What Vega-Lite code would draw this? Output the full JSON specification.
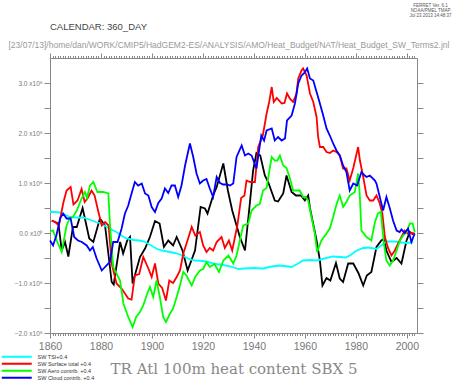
{
  "$schema": "https://vega.github.io/schema/vega-lite/v6.json",
  "width": 367,
  "height": 275,
  "autosize": {"type": "none"},
  "padding": {"left": 50, "top": 58, "right": 41, "bottom": 50},
  "background": "white",
  "title": {"text": "CALENDAR: 360_DAY", "anchor": "start", "frame": "group", "offset": -29, "font": "Liberation Sans", "fontSize": 9.5, "fontWeight": "normal", "color": "#444"},
  "config": {"view": {"stroke": null}},
  "datasets": {
    "lines": [
      {"series": "TR", "year": 1860.7, "value": 0.25},
      {"series": "TR", "year": 1863.3, "value": 0.19},
      {"series": "TR", "year": 1864.6, "value": -0.35},
      {"series": "TR", "year": 1865.9, "value": -0.18},
      {"series": "TR", "year": 1867.2, "value": -0.47},
      {"series": "TR", "year": 1869, "value": 0.12},
      {"series": "TR", "year": 1870.5, "value": 0.12},
      {"series": "TR", "year": 1872.8, "value": 0.5},
      {"series": "TR", "year": 1875.4, "value": -0.11},
      {"series": "TR", "year": 1877, "value": -0.18},
      {"series": "TR", "year": 1879.6, "value": 0.29},
      {"series": "TR", "year": 1881.6, "value": 0.15},
      {"series": "TR", "year": 1884.2, "value": -0.98},
      {"series": "TR", "year": 1885, "value": -1.03},
      {"series": "TR", "year": 1887.5, "value": -0.18},
      {"series": "TR", "year": 1888.7, "value": -0.41},
      {"series": "TR", "year": 1890.3, "value": -0.15},
      {"series": "TR", "year": 1891.4, "value": -0.08},
      {"series": "TR", "year": 1892.4, "value": -1.01},
      {"series": "TR", "year": 1895.3, "value": -0.48},
      {"series": "TR", "year": 1897.3, "value": -0.31},
      {"series": "TR", "year": 1899.2, "value": -0.08},
      {"series": "TR", "year": 1901.2, "value": 0.24},
      {"series": "TR", "year": 1903, "value": 0.19},
      {"series": "TR", "year": 1904.7, "value": -0.28},
      {"series": "TR", "year": 1906.4, "value": -0.15},
      {"series": "TR", "year": 1908.3, "value": -0.25},
      {"series": "TR", "year": 1909.7, "value": -0.08},
      {"series": "TR", "year": 1912, "value": -0.35},
      {"series": "TR", "year": 1914, "value": -0.75},
      {"series": "TR", "year": 1916.9, "value": -0.35},
      {"series": "TR", "year": 1919.1, "value": 0.52},
      {"series": "TR", "year": 1920.8, "value": 0.49},
      {"series": "TR", "year": 1921.8, "value": 0.39},
      {"series": "TR", "year": 1924, "value": 0.75},
      {"series": "TR", "year": 1925.4, "value": 0.92},
      {"series": "TR", "year": 1928, "value": 1.39},
      {"series": "TR", "year": 1929.8, "value": 0.85},
      {"series": "TR", "year": 1931.5, "value": 0.45},
      {"series": "TR", "year": 1934.5, "value": -0.08},
      {"series": "TR", "year": 1936.5, "value": -0.35},
      {"series": "TR", "year": 1938.4, "value": 0.59},
      {"series": "TR", "year": 1939.7, "value": 1.25},
      {"series": "TR", "year": 1941, "value": 1.6},
      {"series": "TR", "year": 1942.5, "value": 1.55},
      {"series": "TR", "year": 1944.3, "value": 1.15},
      {"series": "TR", "year": 1945.6, "value": 1.02},
      {"series": "TR", "year": 1948.2, "value": 0.65},
      {"series": "TR", "year": 1949.5, "value": 0.63},
      {"series": "TR", "year": 1951.5, "value": 0.79},
      {"series": "TR", "year": 1952.8, "value": 1.15},
      {"series": "TR", "year": 1954.8, "value": 0.82},
      {"series": "TR", "year": 1956.5, "value": 0.75},
      {"series": "TR", "year": 1958.5, "value": 0.75},
      {"series": "TR", "year": 1960, "value": 0.65},
      {"series": "TR", "year": 1961.3, "value": 0.75},
      {"series": "TR", "year": 1962, "value": 0.5},
      {"series": "TR", "year": 1964.6, "value": -0.15},
      {"series": "TR", "year": 1965.9, "value": -0.55},
      {"series": "TR", "year": 1966.9, "value": -1.05},
      {"series": "TR", "year": 1968.5, "value": -0.9},
      {"series": "TR", "year": 1970, "value": -0.95},
      {"series": "TR", "year": 1972.2, "value": -0.6},
      {"series": "TR", "year": 1973.7, "value": -0.91},
      {"series": "TR", "year": 1975, "value": -0.98},
      {"series": "TR", "year": 1977, "value": -0.61},
      {"series": "TR", "year": 1979, "value": -0.61},
      {"series": "TR", "year": 1981, "value": -0.8},
      {"series": "TR", "year": 1982.9, "value": -1.05},
      {"series": "TR", "year": 1984.3, "value": -0.85},
      {"series": "TR", "year": 1986.1, "value": -0.78},
      {"series": "TR", "year": 1988.1, "value": -0.28},
      {"series": "TR", "year": 1990, "value": -0.15},
      {"series": "TR", "year": 1991, "value": -0.12},
      {"series": "TR", "year": 1992, "value": -0.35},
      {"series": "TR", "year": 1994, "value": -0.58},
      {"series": "TR", "year": 1996, "value": -0.5},
      {"series": "TR", "year": 1997.9, "value": -0.61},
      {"series": "TR", "year": 1999.9, "value": -0.15},
      {"series": "TR", "year": 2001.2, "value": 0.02},
      {"series": "TR", "year": 2002.5, "value": -0.03},

      {"series": "SW TSI+0.4", "year": 1860, "value": 0.42},
      {"series": "SW TSI+0.4", "year": 1862, "value": 0.42},
      {"series": "SW TSI+0.4", "year": 1864, "value": 0.41},
      {"series": "SW TSI+0.4", "year": 1866, "value": 0.36},
      {"series": "SW TSI+0.4", "year": 1868, "value": 0.32},
      {"series": "SW TSI+0.4", "year": 1870, "value": 0.31},
      {"series": "SW TSI+0.4", "year": 1873, "value": 0.31},
      {"series": "SW TSI+0.4", "year": 1876, "value": 0.26},
      {"series": "SW TSI+0.4", "year": 1878, "value": 0.22},
      {"series": "SW TSI+0.4", "year": 1880, "value": 0.19},
      {"series": "SW TSI+0.4", "year": 1883, "value": 0.1},
      {"series": "SW TSI+0.4", "year": 1886, "value": 0.02},
      {"series": "SW TSI+0.4", "year": 1888, "value": -0.05},
      {"series": "SW TSI+0.4", "year": 1890, "value": -0.11},
      {"series": "SW TSI+0.4", "year": 1893, "value": -0.14},
      {"series": "SW TSI+0.4", "year": 1895, "value": -0.15},
      {"series": "SW TSI+0.4", "year": 1897, "value": -0.17},
      {"series": "SW TSI+0.4", "year": 1900, "value": -0.26},
      {"series": "SW TSI+0.4", "year": 1902, "value": -0.32},
      {"series": "SW TSI+0.4", "year": 1904, "value": -0.35},
      {"series": "SW TSI+0.4", "year": 1907, "value": -0.38},
      {"series": "SW TSI+0.4", "year": 1909, "value": -0.4},
      {"series": "SW TSI+0.4", "year": 1911, "value": -0.43},
      {"series": "SW TSI+0.4", "year": 1913, "value": -0.48},
      {"series": "SW TSI+0.4", "year": 1915, "value": -0.53},
      {"series": "SW TSI+0.4", "year": 1917, "value": -0.55},
      {"series": "SW TSI+0.4", "year": 1920, "value": -0.56},
      {"series": "SW TSI+0.4", "year": 1922, "value": -0.58},
      {"series": "SW TSI+0.4", "year": 1925, "value": -0.62},
      {"series": "SW TSI+0.4", "year": 1928, "value": -0.64},
      {"series": "SW TSI+0.4", "year": 1931, "value": -0.67},
      {"series": "SW TSI+0.4", "year": 1934, "value": -0.72},
      {"series": "SW TSI+0.4", "year": 1936, "value": -0.71},
      {"series": "SW TSI+0.4", "year": 1940, "value": -0.7},
      {"series": "SW TSI+0.4", "year": 1943.6, "value": -0.71},
      {"series": "SW TSI+0.4", "year": 1947, "value": -0.67},
      {"series": "SW TSI+0.4", "year": 1950, "value": -0.65},
      {"series": "SW TSI+0.4", "year": 1952, "value": -0.66},
      {"series": "SW TSI+0.4", "year": 1954.8, "value": -0.68},
      {"series": "SW TSI+0.4", "year": 1957, "value": -0.62},
      {"series": "SW TSI+0.4", "year": 1959.3, "value": -0.55},
      {"series": "SW TSI+0.4", "year": 1962, "value": -0.54},
      {"series": "SW TSI+0.4", "year": 1964.5, "value": -0.55},
      {"series": "SW TSI+0.4", "year": 1967, "value": -0.52},
      {"series": "SW TSI+0.4", "year": 1971, "value": -0.47},
      {"series": "SW TSI+0.4", "year": 1974, "value": -0.48},
      {"series": "SW TSI+0.4", "year": 1976, "value": -0.49},
      {"series": "SW TSI+0.4", "year": 1978, "value": -0.44},
      {"series": "SW TSI+0.4", "year": 1980, "value": -0.36},
      {"series": "SW TSI+0.4", "year": 1982.9, "value": -0.3},
      {"series": "SW TSI+0.4", "year": 1985, "value": -0.29},
      {"series": "SW TSI+0.4", "year": 1988, "value": -0.32},
      {"series": "SW TSI+0.4", "year": 1990, "value": -0.25},
      {"series": "SW TSI+0.4", "year": 1992, "value": -0.17},
      {"series": "SW TSI+0.4", "year": 1995, "value": -0.17},
      {"series": "SW TSI+0.4", "year": 1998, "value": -0.19},
      {"series": "SW TSI+0.4", "year": 2000, "value": -0.2},
      {"series": "SW TSI+0.4", "year": 2002.5, "value": -0.18},

      {"series": "SW Surface total +0.4", "year": 1860.7, "value": 0.25},
      {"series": "SW Surface total +0.4", "year": 1862, "value": 0.22},
      {"series": "SW Surface total +0.4", "year": 1863.5, "value": 0.15},
      {"series": "SW Surface total +0.4", "year": 1865.2, "value": 0.6},
      {"series": "SW Surface total +0.4", "year": 1866.5, "value": 0.85},
      {"series": "SW Surface total +0.4", "year": 1868.1, "value": 0.92},
      {"series": "SW Surface total +0.4", "year": 1869.2, "value": 0.57},
      {"series": "SW Surface total +0.4", "year": 1870.8, "value": 0.65},
      {"series": "SW Surface total +0.4", "year": 1872.4, "value": 0.88},
      {"series": "SW Surface total +0.4", "year": 1873.6, "value": 0.62},
      {"series": "SW Surface total +0.4", "year": 1874.8, "value": 0.7},
      {"series": "SW Surface total +0.4", "year": 1876.3, "value": 0.85},
      {"series": "SW Surface total +0.4", "year": 1877.5, "value": 0.75},
      {"series": "SW Surface total +0.4", "year": 1879, "value": 0.42},
      {"series": "SW Surface total +0.4", "year": 1880.3, "value": 0.15},
      {"series": "SW Surface total +0.4", "year": 1881.6, "value": 0.22},
      {"series": "SW Surface total +0.4", "year": 1883, "value": 0.15},
      {"series": "SW Surface total +0.4", "year": 1884.2, "value": -0.61},
      {"series": "SW Surface total +0.4", "year": 1886.1, "value": -1.01},
      {"series": "SW Surface total +0.4", "year": 1888.1, "value": -1.11},
      {"series": "SW Surface total +0.4", "year": 1890.7, "value": -1.31},
      {"series": "SW Surface total +0.4", "year": 1892, "value": -1.33},
      {"series": "SW Surface total +0.4", "year": 1893.3, "value": -0.85},
      {"series": "SW Surface total +0.4", "year": 1895, "value": -0.82},
      {"series": "SW Surface total +0.4", "year": 1896.6, "value": -0.48},
      {"series": "SW Surface total +0.4", "year": 1898.6, "value": -0.71},
      {"series": "SW Surface total +0.4", "year": 1899.9, "value": -0.88},
      {"series": "SW Surface total +0.4", "year": 1901.2, "value": -0.61},
      {"series": "SW Surface total +0.4", "year": 1902.5, "value": -1.01},
      {"series": "SW Surface total +0.4", "year": 1904, "value": -1.1},
      {"series": "SW Surface total +0.4", "year": 1905.5, "value": -1.35},
      {"series": "SW Surface total +0.4", "year": 1906.8, "value": -0.95},
      {"series": "SW Surface total +0.4", "year": 1908.3, "value": -1.0},
      {"series": "SW Surface total +0.4", "year": 1909.7, "value": -0.88},
      {"series": "SW Surface total +0.4", "year": 1911, "value": -0.75},
      {"series": "SW Surface total +0.4", "year": 1912.3, "value": -0.41},
      {"series": "SW Surface total +0.4", "year": 1914.2, "value": -0.11},
      {"series": "SW Surface total +0.4", "year": 1915.6, "value": 0.12},
      {"series": "SW Surface total +0.4", "year": 1917, "value": -0.05},
      {"series": "SW Surface total +0.4", "year": 1918.8, "value": 0.02},
      {"series": "SW Surface total +0.4", "year": 1920.1, "value": -0.25},
      {"series": "SW Surface total +0.4", "year": 1921.4, "value": -0.38},
      {"series": "SW Surface total +0.4", "year": 1922.7, "value": -0.3},
      {"series": "SW Surface total +0.4", "year": 1924, "value": -0.35},
      {"series": "SW Surface total +0.4", "year": 1925.4, "value": -0.18},
      {"series": "SW Surface total +0.4", "year": 1927.3, "value": -0.08},
      {"series": "SW Surface total +0.4", "year": 1928.6, "value": -0.3},
      {"series": "SW Surface total +0.4", "year": 1930.2, "value": -0.15},
      {"series": "SW Surface total +0.4", "year": 1931.5, "value": -0.35},
      {"series": "SW Surface total +0.4", "year": 1933.5, "value": 0.15},
      {"series": "SW Surface total +0.4", "year": 1935, "value": 0.7},
      {"series": "SW Surface total +0.4", "year": 1936.3, "value": 0.75},
      {"series": "SW Surface total +0.4", "year": 1937.1, "value": 1.05},
      {"series": "SW Surface total +0.4", "year": 1938.5, "value": 1.02},
      {"series": "SW Surface total +0.4", "year": 1940.4, "value": 1.02},
      {"series": "SW Surface total +0.4", "year": 1941.7, "value": 1.72},
      {"series": "SW Surface total +0.4", "year": 1943.5, "value": 1.95},
      {"series": "SW Surface total +0.4", "year": 1945, "value": 2.39},
      {"series": "SW Surface total +0.4", "year": 1946, "value": 2.62},
      {"series": "SW Surface total +0.4", "year": 1947, "value": 2.92},
      {"series": "SW Surface total +0.4", "year": 1947.8, "value": 2.62},
      {"series": "SW Surface total +0.4", "year": 1949, "value": 2.7},
      {"series": "SW Surface total +0.4", "year": 1950.9, "value": 2.59},
      {"series": "SW Surface total +0.4", "year": 1952, "value": 2.6},
      {"series": "SW Surface total +0.4", "year": 1953, "value": 2.79},
      {"series": "SW Surface total +0.4", "year": 1954.2, "value": 2.68},
      {"series": "SW Surface total +0.4", "year": 1955.4, "value": 2.62},
      {"series": "SW Surface total +0.4", "year": 1956.7, "value": 2.79},
      {"series": "SW Surface total +0.4", "year": 1957.4, "value": 3.09},
      {"series": "SW Surface total +0.4", "year": 1958.7, "value": 3.25},
      {"series": "SW Surface total +0.4", "year": 1959.3, "value": 3.29},
      {"series": "SW Surface total +0.4", "year": 1960.7, "value": 3.15},
      {"series": "SW Surface total +0.4", "year": 1962, "value": 2.79},
      {"series": "SW Surface total +0.4", "year": 1963.3, "value": 2.62},
      {"series": "SW Surface total +0.4", "year": 1964.6, "value": 2.32},
      {"series": "SW Surface total +0.4", "year": 1965.2, "value": 1.92},
      {"series": "SW Surface total +0.4", "year": 1965.9, "value": 1.72},
      {"series": "SW Surface total +0.4", "year": 1967.2, "value": 1.72},
      {"series": "SW Surface total +0.4", "year": 1968.5, "value": 1.62},
      {"series": "SW Surface total +0.4", "year": 1969.8, "value": 1.6},
      {"series": "SW Surface total +0.4", "year": 1971.1, "value": 1.65},
      {"series": "SW Surface total +0.4", "year": 1972.4, "value": 1.62},
      {"series": "SW Surface total +0.4", "year": 1973.7, "value": 1.55},
      {"series": "SW Surface total +0.4", "year": 1975, "value": 1.29},
      {"series": "SW Surface total +0.4", "year": 1976.3, "value": 1.29},
      {"series": "SW Surface total +0.4", "year": 1977.6, "value": 1.05},
      {"series": "SW Surface total +0.4", "year": 1979, "value": 1.3},
      {"series": "SW Surface total +0.4", "year": 1980.9, "value": 1.72},
      {"series": "SW Surface total +0.4", "year": 1981.6, "value": 1.45},
      {"series": "SW Surface total +0.4", "year": 1982.9, "value": 1.12},
      {"series": "SW Surface total +0.4", "year": 1984.2, "value": 0.75},
      {"series": "SW Surface total +0.4", "year": 1985.5, "value": 0.65},
      {"series": "SW Surface total +0.4", "year": 1986.8, "value": 0.65},
      {"series": "SW Surface total +0.4", "year": 1988.1, "value": 0.75},
      {"series": "SW Surface total +0.4", "year": 1989.4, "value": 0.59},
      {"series": "SW Surface total +0.4", "year": 1990.4, "value": 0.39},
      {"series": "SW Surface total +0.4", "year": 1991.4, "value": -0.08},
      {"series": "SW Surface total +0.4", "year": 1992.7, "value": -0.31},
      {"series": "SW Surface total +0.4", "year": 1994, "value": -0.45},
      {"series": "SW Surface total +0.4", "year": 1995.3, "value": -0.35},
      {"series": "SW Surface total +0.4", "year": 1996.6, "value": -0.21},
      {"series": "SW Surface total +0.4", "year": 1997.9, "value": -0.08},
      {"series": "SW Surface total +0.4", "year": 1999.2, "value": 0.05},
      {"series": "SW Surface total +0.4", "year": 2000.5, "value": -0.02},
      {"series": "SW Surface total +0.4", "year": 2001.8, "value": 0.0},
      {"series": "SW Surface total +0.4", "year": 2003.1, "value": -0.01},

      {"series": "SW Aero contrib. +0.4", "year": 1860, "value": 0.03},
      {"series": "SW Aero contrib. +0.4", "year": 1861.2, "value": 0.05},
      {"series": "SW Aero contrib. +0.4", "year": 1862.6, "value": -0.15},
      {"series": "SW Aero contrib. +0.4", "year": 1864.6, "value": -0.38},
      {"series": "SW Aero contrib. +0.4", "year": 1866.5, "value": 0.15},
      {"series": "SW Aero contrib. +0.4", "year": 1867.8, "value": 0.3},
      {"series": "SW Aero contrib. +0.4", "year": 1869, "value": 0.32},
      {"series": "SW Aero contrib. +0.4", "year": 1870.5, "value": 0.45},
      {"series": "SW Aero contrib. +0.4", "year": 1872.4, "value": 0.69},
      {"series": "SW Aero contrib. +0.4", "year": 1873.7, "value": 0.82},
      {"series": "SW Aero contrib. +0.4", "year": 1874.5, "value": 0.7},
      {"series": "SW Aero contrib. +0.4", "year": 1875.7, "value": 0.95},
      {"series": "SW Aero contrib. +0.4", "year": 1877, "value": 1.02},
      {"series": "SW Aero contrib. +0.4", "year": 1878.6, "value": 0.82},
      {"series": "SW Aero contrib. +0.4", "year": 1880.9, "value": 0.82},
      {"series": "SW Aero contrib. +0.4", "year": 1882.9, "value": 0.79},
      {"series": "SW Aero contrib. +0.4", "year": 1883.5, "value": 0.19},
      {"series": "SW Aero contrib. +0.4", "year": 1884.8, "value": -0.68},
      {"series": "SW Aero contrib. +0.4", "year": 1887.5, "value": -0.95},
      {"series": "SW Aero contrib. +0.4", "year": 1888.8, "value": -1.41},
      {"series": "SW Aero contrib. +0.4", "year": 1890.7, "value": -1.68},
      {"series": "SW Aero contrib. +0.4", "year": 1892.4, "value": -1.88},
      {"series": "SW Aero contrib. +0.4", "year": 1893.8, "value": -1.68},
      {"series": "SW Aero contrib. +0.4", "year": 1895.3, "value": -1.58},
      {"series": "SW Aero contrib. +0.4", "year": 1896.6, "value": -1.45},
      {"series": "SW Aero contrib. +0.4", "year": 1897.9, "value": -1.25},
      {"series": "SW Aero contrib. +0.4", "year": 1899.2, "value": -1.08},
      {"series": "SW Aero contrib. +0.4", "year": 1900.5, "value": -1.28},
      {"series": "SW Aero contrib. +0.4", "year": 1901.8, "value": -0.95},
      {"series": "SW Aero contrib. +0.4", "year": 1903.1, "value": -1.28},
      {"series": "SW Aero contrib. +0.4", "year": 1904.4, "value": -1.68},
      {"series": "SW Aero contrib. +0.4", "year": 1905.5, "value": -1.78},
      {"series": "SW Aero contrib. +0.4", "year": 1907, "value": -1.62},
      {"series": "SW Aero contrib. +0.4", "year": 1908.3, "value": -1.51},
      {"series": "SW Aero contrib. +0.4", "year": 1909.7, "value": -1.28},
      {"series": "SW Aero contrib. +0.4", "year": 1911, "value": -1.05},
      {"series": "SW Aero contrib. +0.4", "year": 1912.3, "value": -0.78},
      {"series": "SW Aero contrib. +0.4", "year": 1913.5, "value": -0.85},
      {"series": "SW Aero contrib. +0.4", "year": 1915.6, "value": -1.05},
      {"series": "SW Aero contrib. +0.4", "year": 1917, "value": -0.88},
      {"series": "SW Aero contrib. +0.4", "year": 1918.8, "value": -0.75},
      {"series": "SW Aero contrib. +0.4", "year": 1920.1, "value": -0.72},
      {"series": "SW Aero contrib. +0.4", "year": 1921.4, "value": -0.58},
      {"series": "SW Aero contrib. +0.4", "year": 1922.7, "value": -0.68},
      {"series": "SW Aero contrib. +0.4", "year": 1924.5, "value": -0.62},
      {"series": "SW Aero contrib. +0.4", "year": 1926.3, "value": -0.78},
      {"series": "SW Aero contrib. +0.4", "year": 1928, "value": -0.55},
      {"series": "SW Aero contrib. +0.4", "year": 1930, "value": -0.45},
      {"series": "SW Aero contrib. +0.4", "year": 1931.9, "value": -0.61},
      {"series": "SW Aero contrib. +0.4", "year": 1933.2, "value": -0.45},
      {"series": "SW Aero contrib. +0.4", "year": 1934.5, "value": -0.15},
      {"series": "SW Aero contrib. +0.4", "year": 1935.8, "value": 0.15},
      {"series": "SW Aero contrib. +0.4", "year": 1937.8, "value": 0.19},
      {"series": "SW Aero contrib. +0.4", "year": 1939.1, "value": 0.45},
      {"series": "SW Aero contrib. +0.4", "year": 1941, "value": 0.55},
      {"series": "SW Aero contrib. +0.4", "year": 1942.3, "value": 0.58},
      {"series": "SW Aero contrib. +0.4", "year": 1943.6, "value": 0.85},
      {"series": "SW Aero contrib. +0.4", "year": 1945, "value": 0.9},
      {"series": "SW Aero contrib. +0.4", "year": 1946.3, "value": 1.32},
      {"series": "SW Aero contrib. +0.4", "year": 1947, "value": 1.52},
      {"series": "SW Aero contrib. +0.4", "year": 1948.2, "value": 1.45},
      {"series": "SW Aero contrib. +0.4", "year": 1949.2, "value": 1.45},
      {"series": "SW Aero contrib. +0.4", "year": 1950.2, "value": 1.55},
      {"series": "SW Aero contrib. +0.4", "year": 1951.5, "value": 1.35},
      {"series": "SW Aero contrib. +0.4", "year": 1952.8, "value": 1.3},
      {"series": "SW Aero contrib. +0.4", "year": 1954.1, "value": 1.1},
      {"series": "SW Aero contrib. +0.4", "year": 1955.4, "value": 0.85},
      {"series": "SW Aero contrib. +0.4", "year": 1956.7, "value": 0.85},
      {"series": "SW Aero contrib. +0.4", "year": 1958, "value": 0.85},
      {"series": "SW Aero contrib. +0.4", "year": 1959.3, "value": 0.72},
      {"series": "SW Aero contrib. +0.4", "year": 1960.3, "value": 0.72},
      {"series": "SW Aero contrib. +0.4", "year": 1961.3, "value": 0.65},
      {"series": "SW Aero contrib. +0.4", "year": 1962.6, "value": 0.32},
      {"series": "SW Aero contrib. +0.4", "year": 1963.9, "value": -0.01},
      {"series": "SW Aero contrib. +0.4", "year": 1964.8, "value": -0.38},
      {"series": "SW Aero contrib. +0.4", "year": 1966.5, "value": -0.15},
      {"series": "SW Aero contrib. +0.4", "year": 1968.5, "value": -0.01},
      {"series": "SW Aero contrib. +0.4", "year": 1969.8, "value": 0.09},
      {"series": "SW Aero contrib. +0.4", "year": 1971.1, "value": 0.32},
      {"series": "SW Aero contrib. +0.4", "year": 1972.5, "value": 0.59},
      {"series": "SW Aero contrib. +0.4", "year": 1973.7, "value": 0.75},
      {"series": "SW Aero contrib. +0.4", "year": 1975, "value": 0.52},
      {"series": "SW Aero contrib. +0.4", "year": 1976.3, "value": 0.62},
      {"series": "SW Aero contrib. +0.4", "year": 1977.6, "value": 0.75},
      {"series": "SW Aero contrib. +0.4", "year": 1979.6, "value": 0.82},
      {"series": "SW Aero contrib. +0.4", "year": 1980.9, "value": 1.19},
      {"series": "SW Aero contrib. +0.4", "year": 1981.5, "value": 0.8},
      {"series": "SW Aero contrib. +0.4", "year": 1982.2, "value": 0.05},
      {"series": "SW Aero contrib. +0.4", "year": 1984.2, "value": -0.08},
      {"series": "SW Aero contrib. +0.4", "year": 1986.1, "value": -0.15},
      {"series": "SW Aero contrib. +0.4", "year": 1987.5, "value": 0.22},
      {"series": "SW Aero contrib. +0.4", "year": 1988.7, "value": 0.39},
      {"series": "SW Aero contrib. +0.4", "year": 1989.8, "value": 0.42},
      {"series": "SW Aero contrib. +0.4", "year": 1991, "value": -0.21},
      {"series": "SW Aero contrib. +0.4", "year": 1992, "value": -0.55},
      {"series": "SW Aero contrib. +0.4", "year": 1993.3, "value": -0.65},
      {"series": "SW Aero contrib. +0.4", "year": 1994.6, "value": -0.55},
      {"series": "SW Aero contrib. +0.4", "year": 1996, "value": -0.35},
      {"series": "SW Aero contrib. +0.4", "year": 1997.3, "value": -0.15},
      {"series": "SW Aero contrib. +0.4", "year": 1998.6, "value": -0.05},
      {"series": "SW Aero contrib. +0.4", "year": 1999.9, "value": 0.02},
      {"series": "SW Aero contrib. +0.4", "year": 2001.2, "value": 0.19},
      {"series": "SW Aero contrib. +0.4", "year": 2002.3, "value": 0.19},
      {"series": "SW Aero contrib. +0.4", "year": 2003.1, "value": 0.02},

      {"series": "SW Cloud contrib. +0.4", "year": 1860, "value": -0.15},
      {"series": "SW Cloud contrib. +0.4", "year": 1861.2, "value": -0.25},
      {"series": "SW Cloud contrib. +0.4", "year": 1862.5, "value": -0.05},
      {"series": "SW Cloud contrib. +0.4", "year": 1864, "value": 0.3},
      {"series": "SW Cloud contrib. +0.4", "year": 1865.2, "value": 0.39},
      {"series": "SW Cloud contrib. +0.4", "year": 1866.5, "value": 0.29},
      {"series": "SW Cloud contrib. +0.4", "year": 1868.1, "value": 0.29},
      {"series": "SW Cloud contrib. +0.4", "year": 1869.5, "value": -0.08},
      {"series": "SW Cloud contrib. +0.4", "year": 1871, "value": -0.15},
      {"series": "SW Cloud contrib. +0.4", "year": 1872.5, "value": -0.18},
      {"series": "SW Cloud contrib. +0.4", "year": 1874.4, "value": -0.25},
      {"series": "SW Cloud contrib. +0.4", "year": 1875.7, "value": -0.35},
      {"series": "SW Cloud contrib. +0.4", "year": 1876.8, "value": -0.28},
      {"series": "SW Cloud contrib. +0.4", "year": 1878.3, "value": -0.51},
      {"series": "SW Cloud contrib. +0.4", "year": 1880.3, "value": -0.75},
      {"series": "SW Cloud contrib. +0.4", "year": 1881.6, "value": -0.68},
      {"series": "SW Cloud contrib. +0.4", "year": 1883.5, "value": -0.58},
      {"series": "SW Cloud contrib. +0.4", "year": 1884.8, "value": -0.18},
      {"series": "SW Cloud contrib. +0.4", "year": 1886.5, "value": -0.18},
      {"series": "SW Cloud contrib. +0.4", "year": 1888.1, "value": 0.09},
      {"series": "SW Cloud contrib. +0.4", "year": 1889.4, "value": 0.39},
      {"series": "SW Cloud contrib. +0.4", "year": 1890.7, "value": 0.55},
      {"series": "SW Cloud contrib. +0.4", "year": 1892, "value": 0.79},
      {"series": "SW Cloud contrib. +0.4", "year": 1893.3, "value": 1.02},
      {"series": "SW Cloud contrib. +0.4", "year": 1894.6, "value": 0.95},
      {"series": "SW Cloud contrib. +0.4", "year": 1896, "value": 0.99},
      {"series": "SW Cloud contrib. +0.4", "year": 1897.3, "value": 0.79},
      {"series": "SW Cloud contrib. +0.4", "year": 1898.6, "value": 0.75},
      {"series": "SW Cloud contrib. +0.4", "year": 1899.9, "value": 0.52},
      {"series": "SW Cloud contrib. +0.4", "year": 1901.2, "value": 0.42},
      {"series": "SW Cloud contrib. +0.4", "year": 1902.5, "value": 0.6},
      {"series": "SW Cloud contrib. +0.4", "year": 1903.8, "value": 0.69},
      {"series": "SW Cloud contrib. +0.4", "year": 1905.1, "value": 0.89},
      {"series": "SW Cloud contrib. +0.4", "year": 1906.4, "value": 0.8},
      {"series": "SW Cloud contrib. +0.4", "year": 1907.7, "value": 0.95},
      {"series": "SW Cloud contrib. +0.4", "year": 1909, "value": 0.95},
      {"series": "SW Cloud contrib. +0.4", "year": 1910.3, "value": 0.72},
      {"series": "SW Cloud contrib. +0.4", "year": 1911.6, "value": 0.95},
      {"series": "SW Cloud contrib. +0.4", "year": 1913, "value": 1.35},
      {"series": "SW Cloud contrib. +0.4", "year": 1914.9, "value": 1.79},
      {"series": "SW Cloud contrib. +0.4", "year": 1916.2, "value": 1.52},
      {"series": "SW Cloud contrib. +0.4", "year": 1917.5, "value": 1.19},
      {"series": "SW Cloud contrib. +0.4", "year": 1918.8, "value": 0.99},
      {"series": "SW Cloud contrib. +0.4", "year": 1920.1, "value": 1.05},
      {"series": "SW Cloud contrib. +0.4", "year": 1921.4, "value": 1.08},
      {"series": "SW Cloud contrib. +0.4", "year": 1922.7, "value": 0.89},
      {"series": "SW Cloud contrib. +0.4", "year": 1924, "value": 0.72},
      {"series": "SW Cloud contrib. +0.4", "year": 1925.4, "value": 1.12},
      {"series": "SW Cloud contrib. +0.4", "year": 1926.7, "value": 1.0},
      {"series": "SW Cloud contrib. +0.4", "year": 1928, "value": 0.97},
      {"series": "SW Cloud contrib. +0.4", "year": 1929.5, "value": 0.97},
      {"series": "SW Cloud contrib. +0.4", "year": 1930.6, "value": 0.95},
      {"series": "SW Cloud contrib. +0.4", "year": 1931.9, "value": 0.99},
      {"series": "SW Cloud contrib. +0.4", "year": 1933.2, "value": 1.52},
      {"series": "SW Cloud contrib. +0.4", "year": 1935.2, "value": 1.75},
      {"series": "SW Cloud contrib. +0.4", "year": 1936.5, "value": 1.55},
      {"series": "SW Cloud contrib. +0.4", "year": 1937.8, "value": 1.59},
      {"series": "SW Cloud contrib. +0.4", "year": 1939.1, "value": 1.55},
      {"series": "SW Cloud contrib. +0.4", "year": 1941, "value": 1.29},
      {"series": "SW Cloud contrib. +0.4", "year": 1942.9, "value": 1.95},
      {"series": "SW Cloud contrib. +0.4", "year": 1944, "value": 1.85},
      {"series": "SW Cloud contrib. +0.4", "year": 1945, "value": 2.05},
      {"series": "SW Cloud contrib. +0.4", "year": 1947, "value": 2.09},
      {"series": "SW Cloud contrib. +0.4", "year": 1948.2, "value": 1.85},
      {"series": "SW Cloud contrib. +0.4", "year": 1949.5, "value": 1.92},
      {"series": "SW Cloud contrib. +0.4", "year": 1950.9, "value": 1.85},
      {"series": "SW Cloud contrib. +0.4", "year": 1952.2, "value": 1.89},
      {"series": "SW Cloud contrib. +0.4", "year": 1953, "value": 2.25},
      {"series": "SW Cloud contrib. +0.4", "year": 1954.8, "value": 2.35},
      {"series": "SW Cloud contrib. +0.4", "year": 1956.1, "value": 2.59},
      {"series": "SW Cloud contrib. +0.4", "year": 1957.4, "value": 2.99},
      {"series": "SW Cloud contrib. +0.4", "year": 1958.7, "value": 3.15},
      {"series": "SW Cloud contrib. +0.4", "year": 1959.8, "value": 3.2},
      {"series": "SW Cloud contrib. +0.4", "year": 1960.9, "value": 3.29},
      {"series": "SW Cloud contrib. +0.4", "year": 1962, "value": 3.09},
      {"series": "SW Cloud contrib. +0.4", "year": 1963.3, "value": 3.05},
      {"series": "SW Cloud contrib. +0.4", "year": 1964.6, "value": 2.82},
      {"series": "SW Cloud contrib. +0.4", "year": 1965.9, "value": 2.59},
      {"series": "SW Cloud contrib. +0.4", "year": 1967.2, "value": 2.35},
      {"series": "SW Cloud contrib. +0.4", "year": 1968.5, "value": 2.09},
      {"series": "SW Cloud contrib. +0.4", "year": 1969.8, "value": 1.95},
      {"series": "SW Cloud contrib. +0.4", "year": 1971.1, "value": 1.79},
      {"series": "SW Cloud contrib. +0.4", "year": 1972.4, "value": 1.65},
      {"series": "SW Cloud contrib. +0.4", "year": 1973.7, "value": 1.55},
      {"series": "SW Cloud contrib. +0.4", "year": 1975, "value": 1.35},
      {"series": "SW Cloud contrib. +0.4", "year": 1976.3, "value": 1.22},
      {"series": "SW Cloud contrib. +0.4", "year": 1977.6, "value": 0.85},
      {"series": "SW Cloud contrib. +0.4", "year": 1979, "value": 0.99},
      {"series": "SW Cloud contrib. +0.4", "year": 1980.5, "value": 0.95},
      {"series": "SW Cloud contrib. +0.4", "year": 1982.2, "value": 1.22},
      {"series": "SW Cloud contrib. +0.4", "year": 1983.5, "value": 1.15},
      {"series": "SW Cloud contrib. +0.4", "year": 1984.2, "value": 1.12},
      {"series": "SW Cloud contrib. +0.4", "year": 1985.5, "value": 1.15},
      {"series": "SW Cloud contrib. +0.4", "year": 1987.5, "value": 1.05},
      {"series": "SW Cloud contrib. +0.4", "year": 1988.1, "value": 0.99},
      {"series": "SW Cloud contrib. +0.4", "year": 1989.4, "value": 0.72},
      {"series": "SW Cloud contrib. +0.4", "year": 1990.7, "value": 0.45},
      {"series": "SW Cloud contrib. +0.4", "year": 1992, "value": 0.72},
      {"series": "SW Cloud contrib. +0.4", "year": 1993.3, "value": 0.5},
      {"series": "SW Cloud contrib. +0.4", "year": 1994.6, "value": 0.25},
      {"series": "SW Cloud contrib. +0.4", "year": 1996, "value": 0.05},
      {"series": "SW Cloud contrib. +0.4", "year": 1997.2, "value": 0.02},
      {"series": "SW Cloud contrib. +0.4", "year": 1997.9, "value": 0.07},
      {"series": "SW Cloud contrib. +0.4", "year": 1999.2, "value": 0.0},
      {"series": "SW Cloud contrib. +0.4", "year": 2000.5, "value": 0.09},
      {"series": "SW Cloud contrib. +0.4", "year": 2001.8, "value": -0.18},
      {"series": "SW Cloud contrib. +0.4", "year": 2003.1, "value": -0.01}
    ]
  },
  "data": {"name": "lines"},
  "layer": [
    {
      "transform": [{"filter": "datum.series === 'TR'"}],
      "mark": {"type": "line", "color": "black", "strokeWidth": 1.8},
      "encoding": {
        "x": {
          "field": "year", "type": "quantitative",
          "scale": {"domain": [1860, 2004], "nice": false, "zero": false},
          "axis": {
            "orient": "bottom",
            "values": [1860,1861,1862,1863,1864,1865,1866,1867,1868,1869,1870,1871,1872,1873,1874,1875,1876,1877,1878,1879,1880,1881,1882,1883,1884,1885,1886,1887,1888,1889,1890,1891,1892,1893,1894,1895,1896,1897,1898,1899,1900,1901,1902,1903,1904,1905,1906,1907,1908,1909,1910,1911,1912,1913,1914,1915,1916,1917,1918,1919,1920,1921,1922,1923,1924,1925,1926,1927,1928,1929,1930,1931,1932,1933,1934,1935,1936,1937,1938,1939,1940,1941,1942,1943,1944,1945,1946,1947,1948,1949,1950,1951,1952,1953,1954,1955,1956,1957,1958,1959,1960,1961,1962,1963,1964,1965,1966,1967,1968,1969,1970,1971,1972,1973,1974,1975,1976,1977,1978,1979,1980,1981,1982,1983,1984,1985,1986,1987,1988,1989,1990,1991,1992,1993,1994,1995,1996,1997,1998,1999,2000,2001,2002,2003],
            "format": "d",
            "labelExpr": "datum.value % 20 === 0 ? datum.label : ''",
            "tickSize": {"condition": {"test": "datum.value % 20 === 0", "value": 5}, "value": 2.5},
            "labelOverlap": false, "labelFlush": false,
            "labelFont": "Liberation Sans", "labelFontSize": 10.5, "labelColor": "#777", "labelPadding": 3,
            "grid": false, "domainColor": "#888", "tickColor": "#888",
            "title": "TR Atl 100m heat content SBX 5",
            "titleX": 183.5, "titleY": 35, "titleAlign": "center", "titleBaseline": "middle", "titleAngle": 0,
            "titleFont": "DejaVu Serif", "titleFontSize": 15, "titleFontWeight": "normal", "titleColor": "#888"
          }
        },
        "y": {
          "field": "value", "type": "quantitative",
          "scale": {"domain": [-2, 3.5], "nice": false, "zero": false},
          "axis": {
            "orient": "left",
            "values": [-2, -1.5, -1, -0.5, 0, 0.5, 1, 1.5, 2, 2.5, 3],
            "labelExpr": "datum.value % 1 === 0 ? (datum.value === 0 ? '0.0 x10⁰' : format(datum.value, '.1f') + ' x10⁸') : ''",
            "tickSize": 6, "labelPadding": 2,
            "labelFont": "Liberation Sans", "labelFontSize": 6.5, "labelColor": "#777",
            "labelOverlap": false, "labelFlush": false,
            "grid": false, "domainColor": "#888", "tickColor": "#888",
            "title": null
          }
        }
      }
    },
    {
      "transform": [{"filter": "datum.series !== 'TR'"}],
      "mark": {"type": "line", "strokeWidth": 1.8},
      "encoding": {
        "x": {
          "field": "year", "type": "quantitative",
          "scale": {"domain": [1860, 2004], "nice": false, "zero": false},
          "axis": {
            "orient": "top",
            "values": [1860,1861,1862,1863,1864,1865,1866,1867,1868,1869,1870,1871,1872,1873,1874,1875,1876,1877,1878,1879,1880,1881,1882,1883,1884,1885,1886,1887,1888,1889,1890,1891,1892,1893,1894,1895,1896,1897,1898,1899,1900,1901,1902,1903,1904,1905,1906,1907,1908,1909,1910,1911,1912,1913,1914,1915,1916,1917,1918,1919,1920,1921,1922,1923,1924,1925,1926,1927,1928,1929,1930,1931,1932,1933,1934,1935,1936,1937,1938,1939,1940,1941,1942,1943,1944,1945,1946,1947,1948,1949,1950,1951,1952,1953,1954,1955,1956,1957,1958,1959,1960,1961,1962,1963,1964,1965,1966,1967,1968,1969,1970,1971,1972,1973,1974,1975,1976,1977,1978,1979,1980,1981,1982,1983,1984,1985,1986,1987,1988,1989,1990,1991,1992,1993,1994,1995,1996,1997,1998,1999,2000,2001,2002,2003],
            "labels": false,
            "tickSize": {"condition": {"test": "datum.value % 20 === 0", "value": 5}, "value": 2.5},
            "grid": false, "domainColor": "#888", "tickColor": "#888",
            "title": "[23/07/13]/home/dan/WORK/CMIP5/HadGEM2-ES/ANALYSIS/AMO/Heat_Budget/NAT/Heat_Budget_SW_Terms2.jnl",
            "titleX": -42, "titleY": -14, "titleAlign": "left", "titleBaseline": "middle", "titleAngle": 0,
            "titleFont": "Liberation Sans", "titleFontSize": 8.5, "titleFontWeight": "normal", "titleColor": "#999"
          }
        },
        "y": {
          "field": "value", "type": "quantitative",
          "scale": {"domain": [-2, 3.5], "nice": false, "zero": false},
          "axis": {
            "orient": "right",
            "values": [-2, -1.5, -1, -0.5, 0, 0.5, 1, 1.5, 2, 2.5, 3],
            "labels": false, "tickSize": 6,
            "grid": false, "domainColor": "#888", "tickColor": "#888",
            "title": ["FERRET Ver. 6.1", "NOAA/PMEL TMAP", "Jul 23 2013 14:48:37"],
            "titleX": 13, "titleY": -56, "titleAlign": "center", "titleBaseline": "top", "titleAngle": 0,
            "titleFont": "Liberation Sans", "titleFontSize": 4.5, "titleLineHeight": 5, "titleFontWeight": "normal", "titleColor": "#555"
          }
        },
        "color": {
          "field": "series", "type": "nominal",
          "scale": {
            "domain": ["SW TSI+0.4", "SW Surface total +0.4", "SW Aero contrib. +0.4", "SW Cloud contrib. +0.4"],
            "range": ["#00ffff", "#ff0000", "#00ff00", "#0000ff"]
          },
          "legend": {
            "orient": "none", "legendX": -50, "legendY": 296, "title": null,
            "symbolType": "M-15,0H15", "symbolSize": 4, "symbolStrokeWidth": 2, "symbolOffset": 14,
            "labelFont": "Liberation Sans", "labelFontSize": 5.5, "labelColor": "#333", "labelOffset": 18,
            "rowPadding": -2.5, "padding": 0, "offset": 0
          }
        }
      }
    }
  ],
  "resolve": {"axis": {"x": "independent", "y": "independent"}}
}
